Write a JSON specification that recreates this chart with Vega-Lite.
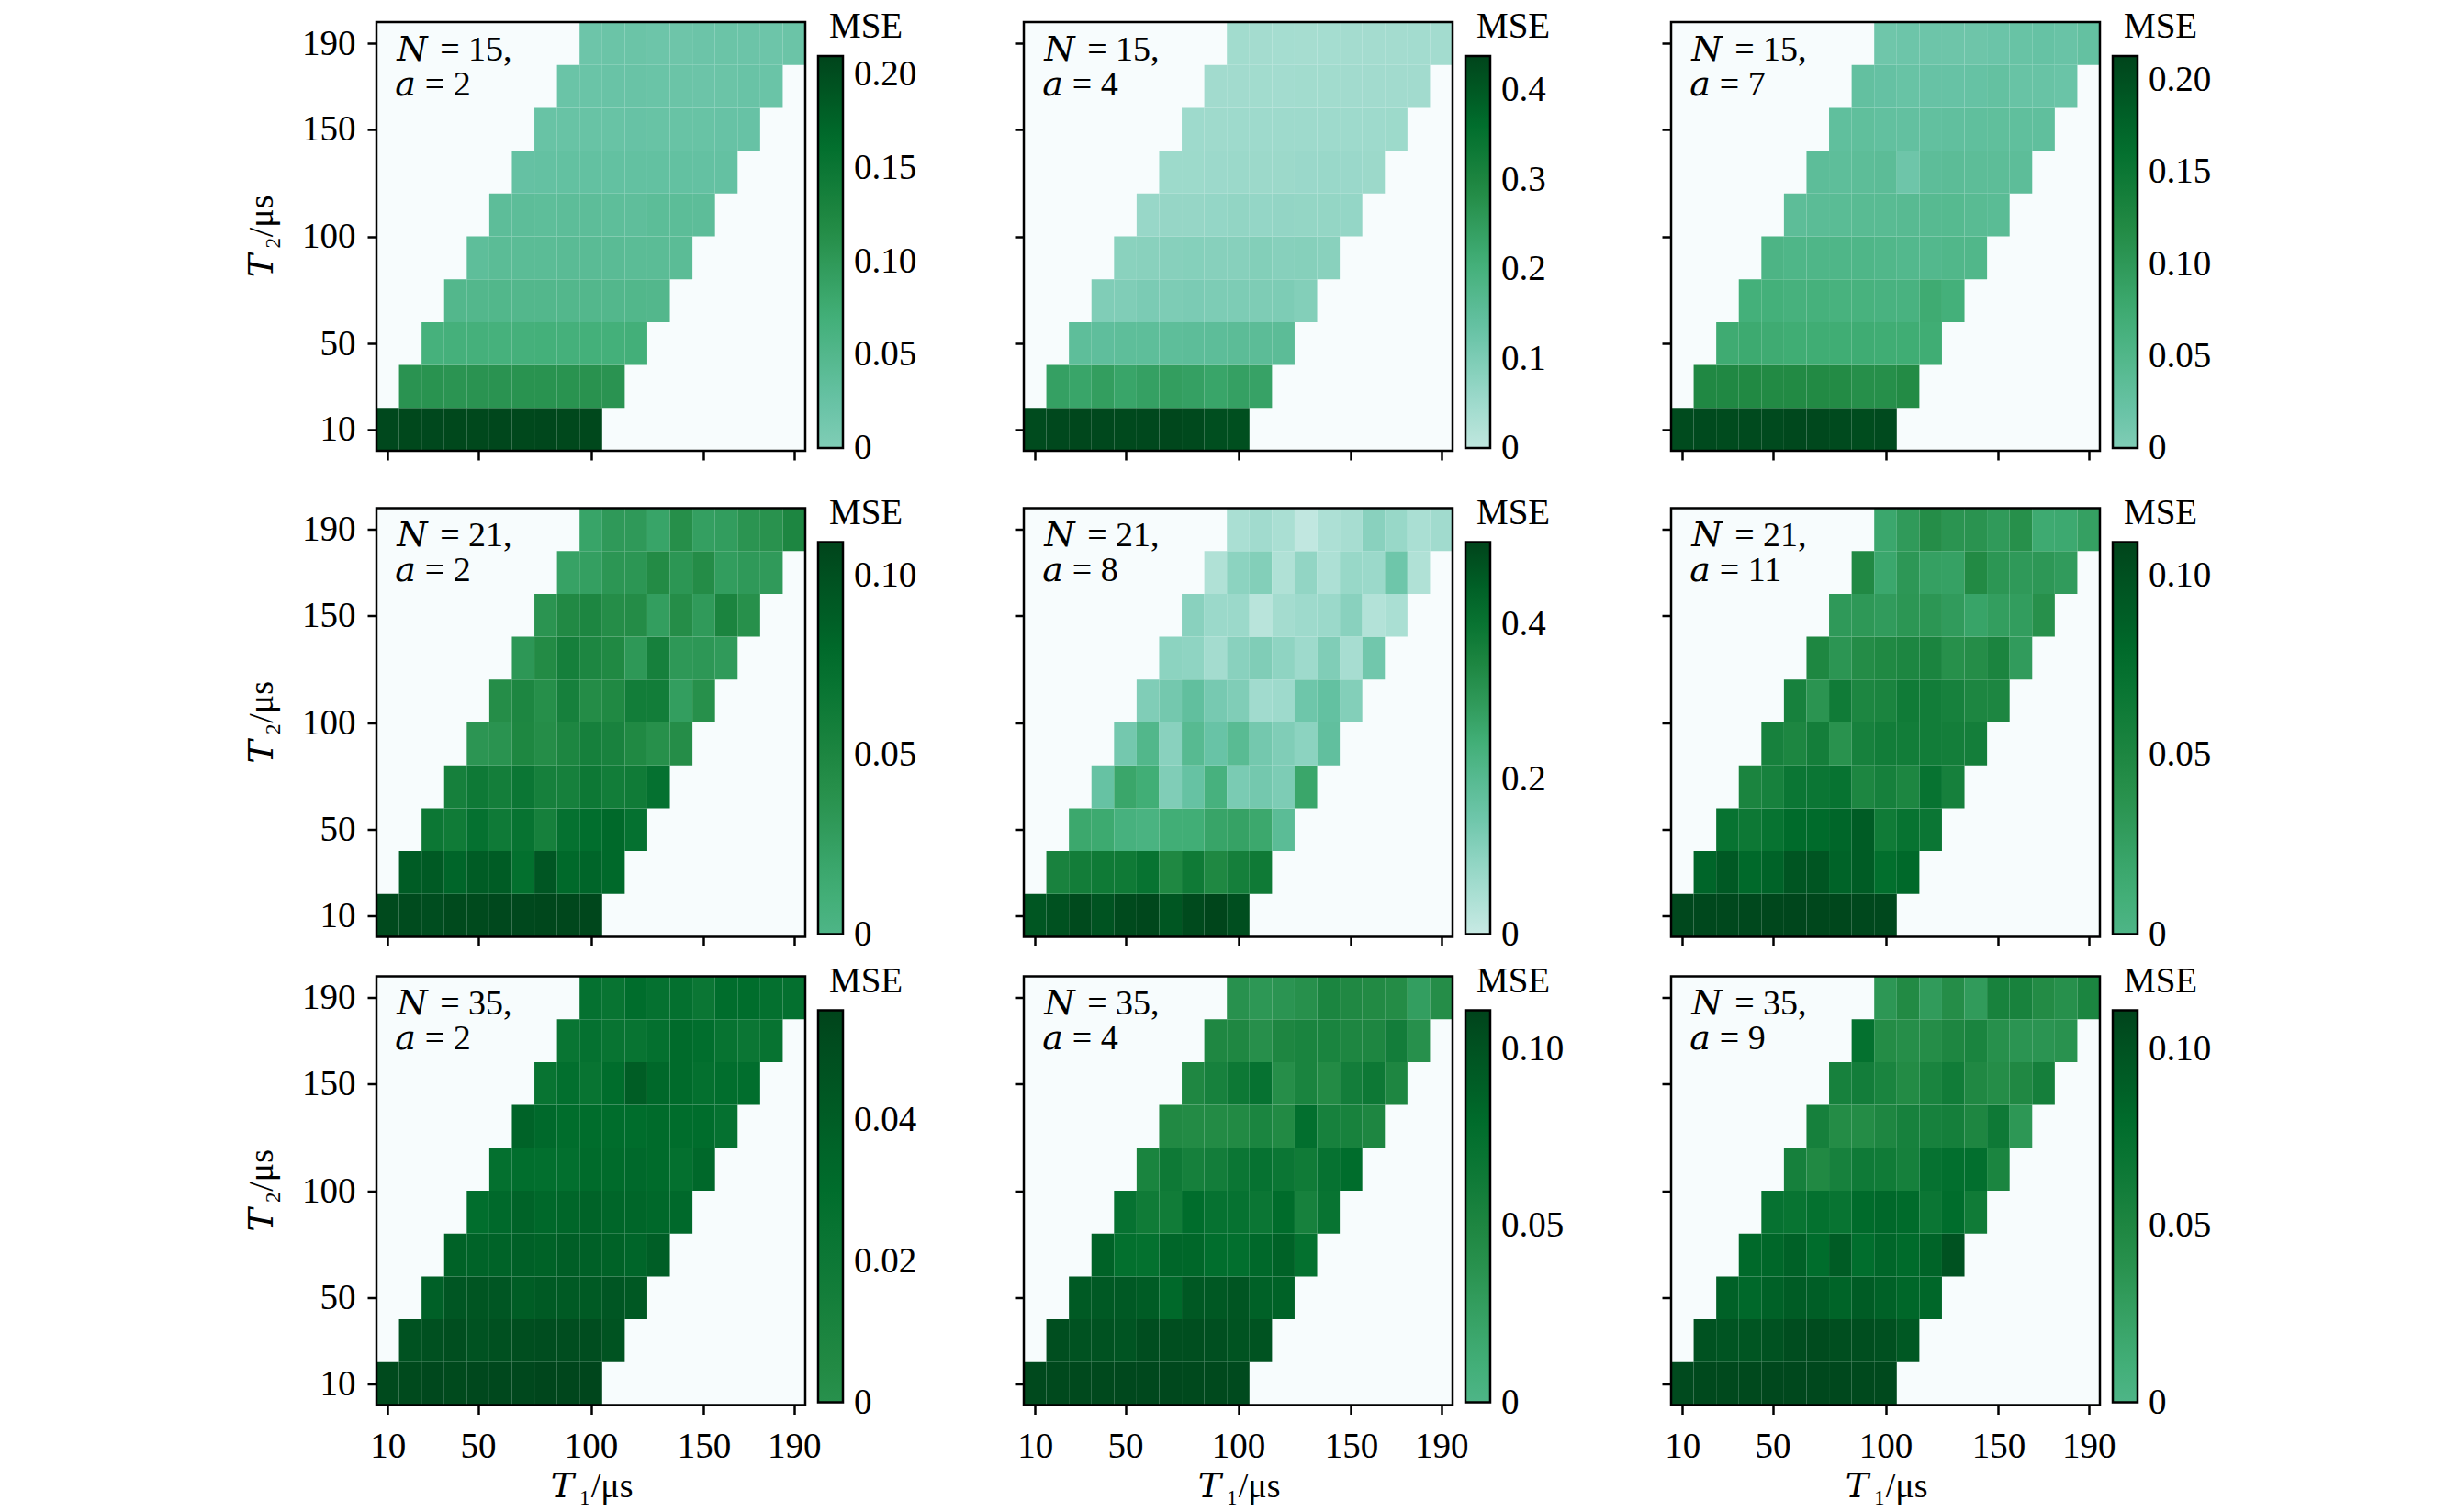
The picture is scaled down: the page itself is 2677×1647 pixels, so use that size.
{"$schema":"https://vega.github.io/schema/vega-lite/v6.json","background":"white","autosize":{"type":"pad"},"padding":{"left":266,"top":10,"right":0,"bottom":0},"spacing":11.5,"resolve":{"scale":{"color":"independent"},"legend":{"color":"independent"}},
"config":{"font":"Liberation Serif","view":{"stroke":null,"fill":"#f7fcfd"},
"axis":{"grid":false,"domain":false,"ticks":true,"tickSize":10,"tickWidth":2.5,"tickColor":"#000","labelFont":"Liberation Serif","labelFontSize":39,"labelColor":"#000","titleFont":"Liberation Serif, DejaVu Math TeX Gyre","titleFontSize":38,"titleFontWeight":"normal","titleColor":"#000","labelPadding":6,"labelFlush":false,"labelOverlap":false},
"axisX":{"titlePadding":5,"labelPadding":16},"axisY":{"titlePadding":24,"labelPadding":13},
"legend":{"orient":"none","legendX":481,"legendY":-14,"gradientLength":427,"gradientThickness":27,"gradientStrokeColor":"#000","gradientStrokeWidth":2.5,"labelFont":"Liberation Serif","labelFontSize":39,"labelColor":"#000","labelOverlap":false,"titleFont":"Liberation Serif","titleFontSize":39,"titleFontWeight":"normal","titleColor":"#000","titleAnchor":"start","titlePadding":12},
"text":{"font":"Liberation Serif, DejaVu Math TeX Gyre","fontSize":38,"align":"left","baseline":"top","lineHeight":38,"color":"#000"}},
"datasets":{
"p1":[{"T1":10,"T2":10,"MSE":0.205},{"T1":20,"T2":10,"MSE":0.206},{"T1":30,"T2":10,"MSE":0.205},{"T1":40,"T2":10,"MSE":0.206},{"T1":50,"T2":10,"MSE":0.206},{"T1":60,"T2":10,"MSE":0.207},{"T1":70,"T2":10,"MSE":0.206},{"T1":80,"T2":10,"MSE":0.207},{"T1":90,"T2":10,"MSE":0.206},{"T1":100,"T2":10,"MSE":0.206},
{"T1":20,"T2":30,"MSE":0.107},{"T1":30,"T2":30,"MSE":0.108},{"T1":40,"T2":30,"MSE":0.106},{"T1":50,"T2":30,"MSE":0.107},{"T1":60,"T2":30,"MSE":0.107},{"T1":70,"T2":30,"MSE":0.108},{"T1":80,"T2":30,"MSE":0.108},{"T1":90,"T2":30,"MSE":0.108},{"T1":100,"T2":30,"MSE":0.109},{"T1":110,"T2":30,"MSE":0.107},
{"T1":30,"T2":50,"MSE":0.066},{"T1":40,"T2":50,"MSE":0.067},{"T1":50,"T2":50,"MSE":0.067},{"T1":60,"T2":50,"MSE":0.066},{"T1":70,"T2":50,"MSE":0.067},{"T1":80,"T2":50,"MSE":0.068},{"T1":90,"T2":50,"MSE":0.067},{"T1":100,"T2":50,"MSE":0.068},{"T1":110,"T2":50,"MSE":0.068},{"T1":120,"T2":50,"MSE":0.069},
{"T1":40,"T2":70,"MSE":0.05},{"T1":50,"T2":70,"MSE":0.05},{"T1":60,"T2":70,"MSE":0.051},{"T1":70,"T2":70,"MSE":0.05},{"T1":80,"T2":70,"MSE":0.05},{"T1":90,"T2":70,"MSE":0.05},{"T1":100,"T2":70,"MSE":0.05},{"T1":110,"T2":70,"MSE":0.05},{"T1":120,"T2":70,"MSE":0.051},{"T1":130,"T2":70,"MSE":0.05},
{"T1":50,"T2":90,"MSE":0.036},{"T1":60,"T2":90,"MSE":0.04},{"T1":70,"T2":90,"MSE":0.04},{"T1":80,"T2":90,"MSE":0.04},{"T1":90,"T2":90,"MSE":0.041},{"T1":100,"T2":90,"MSE":0.041},{"T1":110,"T2":90,"MSE":0.041},{"T1":120,"T2":90,"MSE":0.04},{"T1":130,"T2":90,"MSE":0.04},{"T1":140,"T2":90,"MSE":0.04},
{"T1":60,"T2":110,"MSE":0.037},{"T1":70,"T2":110,"MSE":0.037},{"T1":80,"T2":110,"MSE":0.036},{"T1":90,"T2":110,"MSE":0.037},{"T1":100,"T2":110,"MSE":0.037},{"T1":110,"T2":110,"MSE":0.036},{"T1":120,"T2":110,"MSE":0.035},{"T1":130,"T2":110,"MSE":0.038},{"T1":140,"T2":110,"MSE":0.038},{"T1":150,"T2":110,"MSE":0.037},
{"T1":70,"T2":130,"MSE":0.027},{"T1":80,"T2":130,"MSE":0.028},{"T1":90,"T2":130,"MSE":0.029},{"T1":100,"T2":130,"MSE":0.029},{"T1":110,"T2":130,"MSE":0.029},{"T1":120,"T2":130,"MSE":0.029},{"T1":130,"T2":130,"MSE":0.029},{"T1":140,"T2":130,"MSE":0.029},{"T1":150,"T2":130,"MSE":0.028},{"T1":160,"T2":130,"MSE":0.028},
{"T1":80,"T2":150,"MSE":0.024},{"T1":90,"T2":150,"MSE":0.024},{"T1":100,"T2":150,"MSE":0.024},{"T1":110,"T2":150,"MSE":0.024},{"T1":120,"T2":150,"MSE":0.025},{"T1":130,"T2":150,"MSE":0.024},{"T1":140,"T2":150,"MSE":0.024},{"T1":150,"T2":150,"MSE":0.024},{"T1":160,"T2":150,"MSE":0.025},{"T1":170,"T2":150,"MSE":0.025},
{"T1":90,"T2":170,"MSE":0.022},{"T1":100,"T2":170,"MSE":0.022},{"T1":110,"T2":170,"MSE":0.023},{"T1":120,"T2":170,"MSE":0.023},{"T1":130,"T2":170,"MSE":0.022},{"T1":140,"T2":170,"MSE":0.021},{"T1":150,"T2":170,"MSE":0.02},{"T1":160,"T2":170,"MSE":0.021},{"T1":170,"T2":170,"MSE":0.023},{"T1":180,"T2":170,"MSE":0.022},
{"T1":100,"T2":190,"MSE":0.019},{"T1":110,"T2":190,"MSE":0.021},{"T1":120,"T2":190,"MSE":0.021},{"T1":130,"T2":190,"MSE":0.019},{"T1":140,"T2":190,"MSE":0.018},{"T1":150,"T2":190,"MSE":0.02},{"T1":160,"T2":190,"MSE":0.021},{"T1":170,"T2":190,"MSE":0.02},{"T1":180,"T2":190,"MSE":0.019},{"T1":190,"T2":190,"MSE":0.021}],
"p2":[{"T1":10,"T2":10,"MSE":0.425},{"T1":20,"T2":10,"MSE":0.43},{"T1":30,"T2":10,"MSE":0.432},{"T1":40,"T2":10,"MSE":0.43},{"T1":50,"T2":10,"MSE":0.428},{"T1":60,"T2":10,"MSE":0.43},{"T1":70,"T2":10,"MSE":0.432},{"T1":80,"T2":10,"MSE":0.428},{"T1":90,"T2":10,"MSE":0.42},{"T1":100,"T2":10,"MSE":0.418},
{"T1":20,"T2":30,"MSE":0.24},{"T1":30,"T2":30,"MSE":0.23},{"T1":40,"T2":30,"MSE":0.245},{"T1":50,"T2":30,"MSE":0.23},{"T1":60,"T2":30,"MSE":0.24},{"T1":70,"T2":30,"MSE":0.245},{"T1":80,"T2":30,"MSE":0.24},{"T1":90,"T2":30,"MSE":0.23},{"T1":100,"T2":30,"MSE":0.24},{"T1":110,"T2":30,"MSE":0.235},
{"T1":30,"T2":50,"MSE":0.15},{"T1":40,"T2":50,"MSE":0.148},{"T1":50,"T2":50,"MSE":0.15},{"T1":60,"T2":50,"MSE":0.15},{"T1":70,"T2":50,"MSE":0.15},{"T1":80,"T2":50,"MSE":0.152},{"T1":90,"T2":50,"MSE":0.153},{"T1":100,"T2":50,"MSE":0.155},{"T1":110,"T2":50,"MSE":0.155},{"T1":120,"T2":50,"MSE":0.155},
{"T1":40,"T2":70,"MSE":0.095},{"T1":50,"T2":70,"MSE":0.095},{"T1":60,"T2":70,"MSE":0.102},{"T1":70,"T2":70,"MSE":0.1},{"T1":80,"T2":70,"MSE":0.102},{"T1":90,"T2":70,"MSE":0.1},{"T1":100,"T2":70,"MSE":0.1},{"T1":110,"T2":70,"MSE":0.098},{"T1":120,"T2":70,"MSE":0.1},{"T1":130,"T2":70,"MSE":0.09},
{"T1":50,"T2":90,"MSE":0.08},{"T1":60,"T2":90,"MSE":0.082},{"T1":70,"T2":90,"MSE":0.085},{"T1":80,"T2":90,"MSE":0.087},{"T1":90,"T2":90,"MSE":0.085},{"T1":100,"T2":90,"MSE":0.084},{"T1":110,"T2":90,"MSE":0.09},{"T1":120,"T2":90,"MSE":0.085},{"T1":130,"T2":90,"MSE":0.086},{"T1":140,"T2":90,"MSE":0.082},
{"T1":60,"T2":110,"MSE":0.06},{"T1":70,"T2":110,"MSE":0.063},{"T1":80,"T2":110,"MSE":0.063},{"T1":90,"T2":110,"MSE":0.065},{"T1":100,"T2":110,"MSE":0.068},{"T1":110,"T2":110,"MSE":0.065},{"T1":120,"T2":110,"MSE":0.067},{"T1":130,"T2":110,"MSE":0.066},{"T1":140,"T2":110,"MSE":0.066},{"T1":150,"T2":110,"MSE":0.065},
{"T1":70,"T2":130,"MSE":0.052},{"T1":80,"T2":130,"MSE":0.052},{"T1":90,"T2":130,"MSE":0.053},{"T1":100,"T2":130,"MSE":0.055},{"T1":110,"T2":130,"MSE":0.054},{"T1":120,"T2":130,"MSE":0.054},{"T1":130,"T2":130,"MSE":0.056},{"T1":140,"T2":130,"MSE":0.058},{"T1":150,"T2":130,"MSE":0.056},{"T1":160,"T2":130,"MSE":0.054},
{"T1":80,"T2":150,"MSE":0.05},{"T1":90,"T2":150,"MSE":0.049},{"T1":100,"T2":150,"MSE":0.05},{"T1":110,"T2":150,"MSE":0.05},{"T1":120,"T2":150,"MSE":0.05},{"T1":130,"T2":150,"MSE":0.05},{"T1":140,"T2":150,"MSE":0.05},{"T1":150,"T2":150,"MSE":0.05},{"T1":160,"T2":150,"MSE":0.051},{"T1":170,"T2":150,"MSE":0.052},
{"T1":90,"T2":170,"MSE":0.045},{"T1":100,"T2":170,"MSE":0.045},{"T1":110,"T2":170,"MSE":0.044},{"T1":120,"T2":170,"MSE":0.043},{"T1":130,"T2":170,"MSE":0.044},{"T1":140,"T2":170,"MSE":0.044},{"T1":150,"T2":170,"MSE":0.045},{"T1":160,"T2":170,"MSE":0.045},{"T1":170,"T2":170,"MSE":0.045},{"T1":180,"T2":170,"MSE":0.045},
{"T1":100,"T2":190,"MSE":0.044},{"T1":110,"T2":190,"MSE":0.042},{"T1":120,"T2":190,"MSE":0.04},{"T1":130,"T2":190,"MSE":0.039},{"T1":140,"T2":190,"MSE":0.04},{"T1":150,"T2":190,"MSE":0.041},{"T1":160,"T2":190,"MSE":0.041},{"T1":170,"T2":190,"MSE":0.042},{"T1":180,"T2":190,"MSE":0.043},{"T1":190,"T2":190,"MSE":0.043}],
"p3":[{"T1":10,"T2":10,"MSE":0.205},{"T1":20,"T2":10,"MSE":0.206},{"T1":30,"T2":10,"MSE":0.205},{"T1":40,"T2":10,"MSE":0.206},{"T1":50,"T2":10,"MSE":0.206},{"T1":60,"T2":10,"MSE":0.208},{"T1":70,"T2":10,"MSE":0.208},{"T1":80,"T2":10,"MSE":0.206},{"T1":90,"T2":10,"MSE":0.204},{"T1":100,"T2":10,"MSE":0.206},
{"T1":20,"T2":30,"MSE":0.122},{"T1":30,"T2":30,"MSE":0.122},{"T1":40,"T2":30,"MSE":0.121},{"T1":50,"T2":30,"MSE":0.12},{"T1":60,"T2":30,"MSE":0.12},{"T1":70,"T2":30,"MSE":0.12},{"T1":80,"T2":30,"MSE":0.118},{"T1":90,"T2":30,"MSE":0.113},{"T1":100,"T2":30,"MSE":0.113},{"T1":110,"T2":30,"MSE":0.118},
{"T1":30,"T2":50,"MSE":0.074},{"T1":40,"T2":50,"MSE":0.076},{"T1":50,"T2":50,"MSE":0.074},{"T1":60,"T2":50,"MSE":0.072},{"T1":70,"T2":50,"MSE":0.072},{"T1":80,"T2":50,"MSE":0.072},{"T1":90,"T2":50,"MSE":0.073},{"T1":100,"T2":50,"MSE":0.072},{"T1":110,"T2":50,"MSE":0.072},{"T1":120,"T2":50,"MSE":0.072},
{"T1":40,"T2":70,"MSE":0.066},{"T1":50,"T2":70,"MSE":0.066},{"T1":60,"T2":70,"MSE":0.063},{"T1":70,"T2":70,"MSE":0.064},{"T1":80,"T2":70,"MSE":0.062},{"T1":90,"T2":70,"MSE":0.062},{"T1":100,"T2":70,"MSE":0.06},{"T1":110,"T2":70,"MSE":0.06},{"T1":120,"T2":70,"MSE":0.074},{"T1":130,"T2":70,"MSE":0.066},
{"T1":50,"T2":90,"MSE":0.055},{"T1":60,"T2":90,"MSE":0.052},{"T1":70,"T2":90,"MSE":0.052},{"T1":80,"T2":90,"MSE":0.052},{"T1":90,"T2":90,"MSE":0.052},{"T1":100,"T2":90,"MSE":0.05},{"T1":110,"T2":90,"MSE":0.047},{"T1":120,"T2":90,"MSE":0.047},{"T1":130,"T2":90,"MSE":0.05},{"T1":140,"T2":90,"MSE":0.05},
{"T1":60,"T2":110,"MSE":0.035},{"T1":70,"T2":110,"MSE":0.037},{"T1":80,"T2":110,"MSE":0.038},{"T1":90,"T2":110,"MSE":0.04},{"T1":100,"T2":110,"MSE":0.04},{"T1":110,"T2":110,"MSE":0.041},{"T1":120,"T2":110,"MSE":0.042},{"T1":130,"T2":110,"MSE":0.043},{"T1":140,"T2":110,"MSE":0.04},{"T1":150,"T2":110,"MSE":0.038},
{"T1":70,"T2":130,"MSE":0.034},{"T1":80,"T2":130,"MSE":0.033},{"T1":90,"T2":130,"MSE":0.035},{"T1":100,"T2":130,"MSE":0.036},{"T1":110,"T2":130,"MSE":0.016},{"T1":120,"T2":130,"MSE":0.034},{"T1":130,"T2":130,"MSE":0.036},{"T1":140,"T2":130,"MSE":0.035},{"T1":150,"T2":130,"MSE":0.035},{"T1":160,"T2":130,"MSE":0.034},
{"T1":80,"T2":150,"MSE":0.03},{"T1":90,"T2":150,"MSE":0.031},{"T1":100,"T2":150,"MSE":0.028},{"T1":110,"T2":150,"MSE":0.027},{"T1":120,"T2":150,"MSE":0.028},{"T1":130,"T2":150,"MSE":0.029},{"T1":140,"T2":150,"MSE":0.03},{"T1":150,"T2":150,"MSE":0.031},{"T1":160,"T2":150,"MSE":0.03},{"T1":170,"T2":150,"MSE":0.03},
{"T1":90,"T2":170,"MSE":0.027},{"T1":100,"T2":170,"MSE":0.024},{"T1":110,"T2":170,"MSE":0.021},{"T1":120,"T2":170,"MSE":0.022},{"T1":130,"T2":170,"MSE":0.022},{"T1":140,"T2":170,"MSE":0.023},{"T1":150,"T2":170,"MSE":0.026},{"T1":160,"T2":170,"MSE":0.021},{"T1":170,"T2":170,"MSE":0.021},{"T1":180,"T2":170,"MSE":0.019},
{"T1":100,"T2":190,"MSE":0.015},{"T1":110,"T2":190,"MSE":0.017},{"T1":120,"T2":190,"MSE":0.017},{"T1":130,"T2":190,"MSE":0.016},{"T1":140,"T2":190,"MSE":0.016},{"T1":150,"T2":190,"MSE":0.018},{"T1":160,"T2":190,"MSE":0.021},{"T1":170,"T2":190,"MSE":0.023},{"T1":180,"T2":190,"MSE":0.02},{"T1":190,"T2":190,"MSE":0.026}],
"p4":[{"T1":10,"T2":10,"MSE":0.105},{"T1":20,"T2":10,"MSE":0.104},{"T1":30,"T2":10,"MSE":0.102},{"T1":40,"T2":10,"MSE":0.105},{"T1":50,"T2":10,"MSE":0.105},{"T1":60,"T2":10,"MSE":0.106},{"T1":70,"T2":10,"MSE":0.106},{"T1":80,"T2":10,"MSE":0.107},{"T1":90,"T2":10,"MSE":0.107},{"T1":100,"T2":10,"MSE":0.107},
{"T1":20,"T2":30,"MSE":0.09},{"T1":30,"T2":30,"MSE":0.092},{"T1":40,"T2":30,"MSE":0.083},{"T1":50,"T2":30,"MSE":0.09},{"T1":60,"T2":30,"MSE":0.09},{"T1":70,"T2":30,"MSE":0.074},{"T1":80,"T2":30,"MSE":0.095},{"T1":90,"T2":30,"MSE":0.08},{"T1":100,"T2":30,"MSE":0.083},{"T1":110,"T2":30,"MSE":0.08},
{"T1":30,"T2":50,"MSE":0.066},{"T1":40,"T2":50,"MSE":0.062},{"T1":50,"T2":50,"MSE":0.072},{"T1":60,"T2":50,"MSE":0.063},{"T1":70,"T2":50,"MSE":0.07},{"T1":80,"T2":50,"MSE":0.056},{"T1":90,"T2":50,"MSE":0.072},{"T1":100,"T2":50,"MSE":0.076},{"T1":110,"T2":50,"MSE":0.08},{"T1":120,"T2":50,"MSE":0.072},
{"T1":40,"T2":70,"MSE":0.056},{"T1":50,"T2":70,"MSE":0.064},{"T1":60,"T2":70,"MSE":0.058},{"T1":70,"T2":70,"MSE":0.067},{"T1":80,"T2":70,"MSE":0.056},{"T1":90,"T2":70,"MSE":0.056},{"T1":100,"T2":70,"MSE":0.065},{"T1":110,"T2":70,"MSE":0.06},{"T1":120,"T2":70,"MSE":0.062},{"T1":130,"T2":70,"MSE":0.072},
{"T1":50,"T2":90,"MSE":0.035},{"T1":60,"T2":90,"MSE":0.037},{"T1":70,"T2":90,"MSE":0.049},{"T1":80,"T2":90,"MSE":0.042},{"T1":90,"T2":90,"MSE":0.05},{"T1":100,"T2":90,"MSE":0.056},{"T1":110,"T2":90,"MSE":0.054},{"T1":120,"T2":90,"MSE":0.047},{"T1":130,"T2":90,"MSE":0.04},{"T1":140,"T2":90,"MSE":0.042},
{"T1":60,"T2":110,"MSE":0.042},{"T1":70,"T2":110,"MSE":0.05},{"T1":80,"T2":110,"MSE":0.041},{"T1":90,"T2":110,"MSE":0.056},{"T1":100,"T2":110,"MSE":0.043},{"T1":110,"T2":110,"MSE":0.047},{"T1":120,"T2":110,"MSE":0.06},{"T1":130,"T2":110,"MSE":0.06},{"T1":140,"T2":110,"MSE":0.027},{"T1":150,"T2":110,"MSE":0.04},
{"T1":70,"T2":130,"MSE":0.033},{"T1":80,"T2":130,"MSE":0.044},{"T1":90,"T2":130,"MSE":0.057},{"T1":100,"T2":130,"MSE":0.05},{"T1":110,"T2":130,"MSE":0.047},{"T1":120,"T2":130,"MSE":0.032},{"T1":130,"T2":130,"MSE":0.056},{"T1":140,"T2":130,"MSE":0.032},{"T1":150,"T2":130,"MSE":0.033},{"T1":160,"T2":130,"MSE":0.03},
{"T1":80,"T2":150,"MSE":0.036},{"T1":90,"T2":150,"MSE":0.046},{"T1":100,"T2":150,"MSE":0.05},{"T1":110,"T2":150,"MSE":0.042},{"T1":120,"T2":150,"MSE":0.043},{"T1":130,"T2":150,"MSE":0.027},{"T1":140,"T2":150,"MSE":0.042},{"T1":150,"T2":150,"MSE":0.03},{"T1":160,"T2":150,"MSE":0.052},{"T1":170,"T2":150,"MSE":0.04},
{"T1":90,"T2":170,"MSE":0.023},{"T1":100,"T2":170,"MSE":0.026},{"T1":110,"T2":170,"MSE":0.034},{"T1":120,"T2":170,"MSE":0.034},{"T1":130,"T2":170,"MSE":0.044},{"T1":140,"T2":170,"MSE":0.034},{"T1":150,"T2":170,"MSE":0.043},{"T1":160,"T2":170,"MSE":0.028},{"T1":170,"T2":170,"MSE":0.031},{"T1":180,"T2":170,"MSE":0.03},
{"T1":100,"T2":190,"MSE":0.021},{"T1":110,"T2":190,"MSE":0.031},{"T1":120,"T2":190,"MSE":0.031},{"T1":130,"T2":190,"MSE":0.021},{"T1":140,"T2":190,"MSE":0.041},{"T1":150,"T2":190,"MSE":0.026},{"T1":160,"T2":190,"MSE":0.028},{"T1":170,"T2":190,"MSE":0.036},{"T1":180,"T2":190,"MSE":0.038},{"T1":190,"T2":190,"MSE":0.05}],
"p5":[{"T1":10,"T2":10,"MSE":0.47},{"T1":20,"T2":10,"MSE":0.48},{"T1":30,"T2":10,"MSE":0.495},{"T1":40,"T2":10,"MSE":0.475},{"T1":50,"T2":10,"MSE":0.495},{"T1":60,"T2":10,"MSE":0.5},{"T1":70,"T2":10,"MSE":0.47},{"T1":80,"T2":10,"MSE":0.495},{"T1":90,"T2":10,"MSE":0.505},{"T1":100,"T2":10,"MSE":0.485},
{"T1":20,"T2":30,"MSE":0.36},{"T1":30,"T2":30,"MSE":0.375},{"T1":40,"T2":30,"MSE":0.385},{"T1":50,"T2":30,"MSE":0.385},{"T1":60,"T2":30,"MSE":0.405},{"T1":70,"T2":30,"MSE":0.345},{"T1":80,"T2":30,"MSE":0.385},{"T1":90,"T2":30,"MSE":0.345},{"T1":100,"T2":30,"MSE":0.37},{"T1":110,"T2":30,"MSE":0.385},
{"T1":30,"T2":50,"MSE":0.265},{"T1":40,"T2":50,"MSE":0.26},{"T1":50,"T2":50,"MSE":0.235},{"T1":60,"T2":50,"MSE":0.23},{"T1":70,"T2":50,"MSE":0.25},{"T1":80,"T2":50,"MSE":0.25},{"T1":90,"T2":50,"MSE":0.275},{"T1":100,"T2":50,"MSE":0.28},{"T1":110,"T2":50,"MSE":0.265},{"T1":120,"T2":50,"MSE":0.19},
{"T1":40,"T2":70,"MSE":0.165},{"T1":50,"T2":70,"MSE":0.27},{"T1":60,"T2":70,"MSE":0.25},{"T1":70,"T2":70,"MSE":0.12},{"T1":80,"T2":70,"MSE":0.165},{"T1":90,"T2":70,"MSE":0.235},{"T1":100,"T2":70,"MSE":0.13},{"T1":110,"T2":70,"MSE":0.14},{"T1":120,"T2":70,"MSE":0.125},{"T1":130,"T2":70,"MSE":0.27},
{"T1":50,"T2":90,"MSE":0.14},{"T1":60,"T2":90,"MSE":0.21},{"T1":70,"T2":90,"MSE":0.105},{"T1":80,"T2":90,"MSE":0.2},{"T1":90,"T2":90,"MSE":0.16},{"T1":100,"T2":90,"MSE":0.195},{"T1":110,"T2":90,"MSE":0.14},{"T1":120,"T2":90,"MSE":0.12},{"T1":130,"T2":90,"MSE":0.1},{"T1":140,"T2":90,"MSE":0.175},
{"T1":60,"T2":110,"MSE":0.12},{"T1":70,"T2":110,"MSE":0.14},{"T1":80,"T2":110,"MSE":0.175},{"T1":90,"T2":110,"MSE":0.135},{"T1":100,"T2":110,"MSE":0.12},{"T1":110,"T2":110,"MSE":0.065},{"T1":120,"T2":110,"MSE":0.07},{"T1":130,"T2":110,"MSE":0.15},{"T1":140,"T2":110,"MSE":0.17},{"T1":150,"T2":110,"MSE":0.115},
{"T1":70,"T2":130,"MSE":0.1},{"T1":80,"T2":130,"MSE":0.095},{"T1":90,"T2":130,"MSE":0.06},{"T1":100,"T2":130,"MSE":0.105},{"T1":110,"T2":130,"MSE":0.12},{"T1":120,"T2":130,"MSE":0.095},{"T1":130,"T2":130,"MSE":0.07},{"T1":140,"T2":130,"MSE":0.12},{"T1":150,"T2":130,"MSE":0.055},{"T1":160,"T2":130,"MSE":0.145},
{"T1":80,"T2":150,"MSE":0.105},{"T1":90,"T2":150,"MSE":0.075},{"T1":100,"T2":150,"MSE":0.075},{"T1":110,"T2":150,"MSE":0.025},{"T1":120,"T2":150,"MSE":0.06},{"T1":130,"T2":150,"MSE":0.07},{"T1":140,"T2":150,"MSE":0.075},{"T1":150,"T2":150,"MSE":0.105},{"T1":160,"T2":150,"MSE":0.035},{"T1":170,"T2":150,"MSE":0.05},
{"T1":90,"T2":170,"MSE":0.04},{"T1":100,"T2":170,"MSE":0.1},{"T1":110,"T2":170,"MSE":0.115},{"T1":120,"T2":170,"MSE":0.04},{"T1":130,"T2":170,"MSE":0.09},{"T1":140,"T2":170,"MSE":0.045},{"T1":150,"T2":170,"MSE":0.08},{"T1":160,"T2":170,"MSE":0.075},{"T1":170,"T2":170,"MSE":0.15},{"T1":180,"T2":170,"MSE":0.04},
{"T1":100,"T2":190,"MSE":0.05},{"T1":110,"T2":190,"MSE":0.065},{"T1":120,"T2":190,"MSE":0.05},{"T1":130,"T2":190,"MSE":0.012},{"T1":140,"T2":190,"MSE":0.045},{"T1":150,"T2":190,"MSE":0.055},{"T1":160,"T2":190,"MSE":0.105},{"T1":170,"T2":190,"MSE":0.08},{"T1":180,"T2":190,"MSE":0.05},{"T1":190,"T2":190,"MSE":0.065}],
"p6":[{"T1":10,"T2":10,"MSE":0.106},{"T1":20,"T2":10,"MSE":0.106},{"T1":30,"T2":10,"MSE":0.106},{"T1":40,"T2":10,"MSE":0.106},{"T1":50,"T2":10,"MSE":0.107},{"T1":60,"T2":10,"MSE":0.108},{"T1":70,"T2":10,"MSE":0.107},{"T1":80,"T2":10,"MSE":0.107},{"T1":90,"T2":10,"MSE":0.106},{"T1":100,"T2":10,"MSE":0.106},
{"T1":20,"T2":30,"MSE":0.083},{"T1":30,"T2":30,"MSE":0.093},{"T1":40,"T2":30,"MSE":0.08},{"T1":50,"T2":30,"MSE":0.085},{"T1":60,"T2":30,"MSE":0.096},{"T1":70,"T2":30,"MSE":0.096},{"T1":80,"T2":30,"MSE":0.085},{"T1":90,"T2":30,"MSE":0.09},{"T1":100,"T2":30,"MSE":0.075},{"T1":110,"T2":30,"MSE":0.08},
{"T1":30,"T2":50,"MSE":0.07},{"T1":40,"T2":50,"MSE":0.065},{"T1":50,"T2":50,"MSE":0.07},{"T1":60,"T2":50,"MSE":0.078},{"T1":70,"T2":50,"MSE":0.078},{"T1":80,"T2":50,"MSE":0.082},{"T1":90,"T2":50,"MSE":0.09},{"T1":100,"T2":50,"MSE":0.062},{"T1":110,"T2":50,"MSE":0.07},{"T1":120,"T2":50,"MSE":0.067},
{"T1":40,"T2":70,"MSE":0.052},{"T1":50,"T2":70,"MSE":0.055},{"T1":60,"T2":70,"MSE":0.067},{"T1":70,"T2":70,"MSE":0.067},{"T1":80,"T2":70,"MSE":0.07},{"T1":90,"T2":70,"MSE":0.05},{"T1":100,"T2":70,"MSE":0.056},{"T1":110,"T2":70,"MSE":0.05},{"T1":120,"T2":70,"MSE":0.07},{"T1":130,"T2":70,"MSE":0.056},
{"T1":50,"T2":90,"MSE":0.055},{"T1":60,"T2":90,"MSE":0.05},{"T1":70,"T2":90,"MSE":0.058},{"T1":80,"T2":90,"MSE":0.038},{"T1":90,"T2":90,"MSE":0.055},{"T1":100,"T2":90,"MSE":0.06},{"T1":110,"T2":90,"MSE":0.06},{"T1":120,"T2":90,"MSE":0.06},{"T1":130,"T2":90,"MSE":0.058},{"T1":140,"T2":90,"MSE":0.058},
{"T1":60,"T2":110,"MSE":0.055},{"T1":70,"T2":110,"MSE":0.036},{"T1":80,"T2":110,"MSE":0.062},{"T1":90,"T2":110,"MSE":0.05},{"T1":100,"T2":110,"MSE":0.052},{"T1":110,"T2":110,"MSE":0.062},{"T1":120,"T2":110,"MSE":0.06},{"T1":130,"T2":110,"MSE":0.055},{"T1":140,"T2":110,"MSE":0.05},{"T1":150,"T2":110,"MSE":0.05},
{"T1":70,"T2":130,"MSE":0.049},{"T1":80,"T2":130,"MSE":0.035},{"T1":90,"T2":130,"MSE":0.043},{"T1":100,"T2":130,"MSE":0.047},{"T1":110,"T2":130,"MSE":0.05},{"T1":120,"T2":130,"MSE":0.052},{"T1":130,"T2":130,"MSE":0.04},{"T1":140,"T2":130,"MSE":0.042},{"T1":150,"T2":130,"MSE":0.052},{"T1":160,"T2":130,"MSE":0.029},
{"T1":80,"T2":150,"MSE":0.031},{"T1":90,"T2":150,"MSE":0.032},{"T1":100,"T2":150,"MSE":0.029},{"T1":110,"T2":150,"MSE":0.034},{"T1":120,"T2":150,"MSE":0.034},{"T1":130,"T2":150,"MSE":0.029},{"T1":140,"T2":150,"MSE":0.021},{"T1":150,"T2":150,"MSE":0.027},{"T1":160,"T2":150,"MSE":0.028},{"T1":170,"T2":150,"MSE":0.04},
{"T1":90,"T2":170,"MSE":0.046},{"T1":100,"T2":170,"MSE":0.018},{"T1":110,"T2":170,"MSE":0.033},{"T1":120,"T2":170,"MSE":0.025},{"T1":130,"T2":170,"MSE":0.024},{"T1":140,"T2":170,"MSE":0.045},{"T1":150,"T2":170,"MSE":0.034},{"T1":160,"T2":170,"MSE":0.031},{"T1":170,"T2":170,"MSE":0.033},{"T1":180,"T2":170,"MSE":0.029},
{"T1":100,"T2":190,"MSE":0.018},{"T1":110,"T2":190,"MSE":0.03},{"T1":120,"T2":190,"MSE":0.042},{"T1":130,"T2":190,"MSE":0.036},{"T1":140,"T2":190,"MSE":0.037},{"T1":150,"T2":190,"MSE":0.03},{"T1":160,"T2":190,"MSE":0.04},{"T1":170,"T2":190,"MSE":0.015},{"T1":180,"T2":190,"MSE":0.016},{"T1":190,"T2":190,"MSE":0.025}],
"p7":[{"T1":10,"T2":10,"MSE":0.052},{"T1":20,"T2":10,"MSE":0.052},{"T1":30,"T2":10,"MSE":0.053},{"T1":40,"T2":10,"MSE":0.052},{"T1":50,"T2":10,"MSE":0.053},{"T1":60,"T2":10,"MSE":0.053},{"T1":70,"T2":10,"MSE":0.053},{"T1":80,"T2":10,"MSE":0.054},{"T1":90,"T2":10,"MSE":0.054},{"T1":100,"T2":10,"MSE":0.054},
{"T1":20,"T2":30,"MSE":0.047},{"T1":30,"T2":30,"MSE":0.048},{"T1":40,"T2":30,"MSE":0.049},{"T1":50,"T2":30,"MSE":0.047},{"T1":60,"T2":30,"MSE":0.048},{"T1":70,"T2":30,"MSE":0.049},{"T1":80,"T2":30,"MSE":0.05},{"T1":90,"T2":30,"MSE":0.05},{"T1":100,"T2":30,"MSE":0.05},{"T1":110,"T2":30,"MSE":0.046},
{"T1":30,"T2":50,"MSE":0.038},{"T1":40,"T2":50,"MSE":0.044},{"T1":50,"T2":50,"MSE":0.045},{"T1":60,"T2":50,"MSE":0.044},{"T1":70,"T2":50,"MSE":0.04},{"T1":80,"T2":50,"MSE":0.042},{"T1":90,"T2":50,"MSE":0.042},{"T1":100,"T2":50,"MSE":0.042},{"T1":110,"T2":50,"MSE":0.044},{"T1":120,"T2":50,"MSE":0.043},
{"T1":40,"T2":70,"MSE":0.037},{"T1":50,"T2":70,"MSE":0.036},{"T1":60,"T2":70,"MSE":0.036},{"T1":70,"T2":70,"MSE":0.038},{"T1":80,"T2":70,"MSE":0.037},{"T1":90,"T2":70,"MSE":0.039},{"T1":100,"T2":70,"MSE":0.038},{"T1":110,"T2":70,"MSE":0.037},{"T1":120,"T2":70,"MSE":0.035},{"T1":130,"T2":70,"MSE":0.039},
{"T1":50,"T2":90,"MSE":0.029},{"T1":60,"T2":90,"MSE":0.032},{"T1":70,"T2":90,"MSE":0.036},{"T1":80,"T2":90,"MSE":0.033},{"T1":90,"T2":90,"MSE":0.034},{"T1":100,"T2":90,"MSE":0.036},{"T1":110,"T2":90,"MSE":0.034},{"T1":120,"T2":90,"MSE":0.034},{"T1":130,"T2":90,"MSE":0.033},{"T1":140,"T2":90,"MSE":0.032},
{"T1":60,"T2":110,"MSE":0.027},{"T1":70,"T2":110,"MSE":0.029},{"T1":80,"T2":110,"MSE":0.028},{"T1":90,"T2":110,"MSE":0.028},{"T1":100,"T2":110,"MSE":0.031},{"T1":110,"T2":110,"MSE":0.031},{"T1":120,"T2":110,"MSE":0.032},{"T1":130,"T2":110,"MSE":0.031},{"T1":140,"T2":110,"MSE":0.027},{"T1":150,"T2":110,"MSE":0.033},
{"T1":70,"T2":130,"MSE":0.036},{"T1":80,"T2":130,"MSE":0.032},{"T1":90,"T2":130,"MSE":0.03},{"T1":100,"T2":130,"MSE":0.03},{"T1":110,"T2":130,"MSE":0.03},{"T1":120,"T2":130,"MSE":0.03},{"T1":130,"T2":130,"MSE":0.031},{"T1":140,"T2":130,"MSE":0.03},{"T1":150,"T2":130,"MSE":0.03},{"T1":160,"T2":130,"MSE":0.026},
{"T1":80,"T2":150,"MSE":0.024},{"T1":90,"T2":150,"MSE":0.028},{"T1":100,"T2":150,"MSE":0.024},{"T1":110,"T2":150,"MSE":0.03},{"T1":120,"T2":150,"MSE":0.04},{"T1":130,"T2":150,"MSE":0.033},{"T1":140,"T2":150,"MSE":0.031},{"T1":150,"T2":150,"MSE":0.027},{"T1":160,"T2":150,"MSE":0.029},{"T1":170,"T2":150,"MSE":0.029},
{"T1":90,"T2":170,"MSE":0.023},{"T1":100,"T2":170,"MSE":0.026},{"T1":110,"T2":170,"MSE":0.024},{"T1":120,"T2":170,"MSE":0.024},{"T1":130,"T2":170,"MSE":0.027},{"T1":140,"T2":170,"MSE":0.031},{"T1":150,"T2":170,"MSE":0.029},{"T1":160,"T2":170,"MSE":0.025},{"T1":170,"T2":170,"MSE":0.022},{"T1":180,"T2":170,"MSE":0.025},
{"T1":100,"T2":190,"MSE":0.026},{"T1":110,"T2":190,"MSE":0.024},{"T1":120,"T2":190,"MSE":0.03},{"T1":130,"T2":190,"MSE":0.026},{"T1":140,"T2":190,"MSE":0.027},{"T1":150,"T2":190,"MSE":0.022},{"T1":160,"T2":190,"MSE":0.03},{"T1":170,"T2":190,"MSE":0.03},{"T1":180,"T2":190,"MSE":0.027},{"T1":190,"T2":190,"MSE":0.027}],
"p8":[{"T1":10,"T2":10,"MSE":0.107},{"T1":20,"T2":10,"MSE":0.107},{"T1":30,"T2":10,"MSE":0.107},{"T1":40,"T2":10,"MSE":0.107},{"T1":50,"T2":10,"MSE":0.108},{"T1":60,"T2":10,"MSE":0.108},{"T1":70,"T2":10,"MSE":0.108},{"T1":80,"T2":10,"MSE":0.107},{"T1":90,"T2":10,"MSE":0.107},{"T1":100,"T2":10,"MSE":0.106},
{"T1":20,"T2":30,"MSE":0.103},{"T1":30,"T2":30,"MSE":0.1},{"T1":40,"T2":30,"MSE":0.1},{"T1":50,"T2":30,"MSE":0.098},{"T1":60,"T2":30,"MSE":0.104},{"T1":70,"T2":30,"MSE":0.103},{"T1":80,"T2":30,"MSE":0.103},{"T1":90,"T2":30,"MSE":0.102},{"T1":100,"T2":30,"MSE":0.099},{"T1":110,"T2":30,"MSE":0.099},
{"T1":30,"T2":50,"MSE":0.093},{"T1":40,"T2":50,"MSE":0.094},{"T1":50,"T2":50,"MSE":0.094},{"T1":60,"T2":50,"MSE":0.092},{"T1":70,"T2":50,"MSE":0.081},{"T1":80,"T2":50,"MSE":0.095},{"T1":90,"T2":50,"MSE":0.095},{"T1":100,"T2":50,"MSE":0.097},{"T1":110,"T2":50,"MSE":0.088},{"T1":120,"T2":50,"MSE":0.087},
{"T1":40,"T2":70,"MSE":0.087},{"T1":50,"T2":70,"MSE":0.075},{"T1":60,"T2":70,"MSE":0.074},{"T1":70,"T2":70,"MSE":0.084},{"T1":80,"T2":70,"MSE":0.083},{"T1":90,"T2":70,"MSE":0.077},{"T1":100,"T2":70,"MSE":0.076},{"T1":110,"T2":70,"MSE":0.082},{"T1":120,"T2":70,"MSE":0.087},{"T1":130,"T2":70,"MSE":0.074},
{"T1":50,"T2":90,"MSE":0.072},{"T1":60,"T2":90,"MSE":0.063},{"T1":70,"T2":90,"MSE":0.062},{"T1":80,"T2":90,"MSE":0.078},{"T1":90,"T2":90,"MSE":0.072},{"T1":100,"T2":90,"MSE":0.072},{"T1":110,"T2":90,"MSE":0.068},{"T1":120,"T2":90,"MSE":0.079},{"T1":130,"T2":90,"MSE":0.056},{"T1":140,"T2":90,"MSE":0.07},
{"T1":60,"T2":110,"MSE":0.053},{"T1":70,"T2":110,"MSE":0.065},{"T1":80,"T2":110,"MSE":0.057},{"T1":90,"T2":110,"MSE":0.06},{"T1":100,"T2":110,"MSE":0.068},{"T1":110,"T2":110,"MSE":0.072},{"T1":120,"T2":110,"MSE":0.068},{"T1":130,"T2":110,"MSE":0.063},{"T1":140,"T2":110,"MSE":0.072},{"T1":150,"T2":110,"MSE":0.078},
{"T1":70,"T2":130,"MSE":0.047},{"T1":80,"T2":130,"MSE":0.045},{"T1":90,"T2":130,"MSE":0.045},{"T1":100,"T2":130,"MSE":0.046},{"T1":110,"T2":130,"MSE":0.052},{"T1":120,"T2":130,"MSE":0.046},{"T1":130,"T2":130,"MSE":0.076},{"T1":140,"T2":130,"MSE":0.056},{"T1":150,"T2":130,"MSE":0.055},{"T1":160,"T2":130,"MSE":0.05},
{"T1":80,"T2":150,"MSE":0.049},{"T1":90,"T2":150,"MSE":0.056},{"T1":100,"T2":150,"MSE":0.066},{"T1":110,"T2":150,"MSE":0.072},{"T1":120,"T2":150,"MSE":0.042},{"T1":130,"T2":150,"MSE":0.053},{"T1":140,"T2":150,"MSE":0.045},{"T1":150,"T2":150,"MSE":0.06},{"T1":160,"T2":150,"MSE":0.066},{"T1":170,"T2":150,"MSE":0.05},
{"T1":90,"T2":170,"MSE":0.049},{"T1":100,"T2":170,"MSE":0.049},{"T1":110,"T2":170,"MSE":0.041},{"T1":120,"T2":170,"MSE":0.05},{"T1":130,"T2":170,"MSE":0.053},{"T1":140,"T2":170,"MSE":0.053},{"T1":150,"T2":170,"MSE":0.05},{"T1":160,"T2":170,"MSE":0.05},{"T1":170,"T2":170,"MSE":0.06},{"T1":180,"T2":170,"MSE":0.04},
{"T1":100,"T2":190,"MSE":0.039},{"T1":110,"T2":190,"MSE":0.034},{"T1":120,"T2":190,"MSE":0.036},{"T1":130,"T2":190,"MSE":0.04},{"T1":140,"T2":190,"MSE":0.052},{"T1":150,"T2":190,"MSE":0.048},{"T1":160,"T2":190,"MSE":0.046},{"T1":170,"T2":190,"MSE":0.044},{"T1":180,"T2":190,"MSE":0.027},{"T1":190,"T2":190,"MSE":0.043}],
"p9":[{"T1":10,"T2":10,"MSE":0.106},{"T1":20,"T2":10,"MSE":0.107},{"T1":30,"T2":10,"MSE":0.107},{"T1":40,"T2":10,"MSE":0.107},{"T1":50,"T2":10,"MSE":0.108},{"T1":60,"T2":10,"MSE":0.108},{"T1":70,"T2":10,"MSE":0.108},{"T1":80,"T2":10,"MSE":0.108},{"T1":90,"T2":10,"MSE":0.107},{"T1":100,"T2":10,"MSE":0.107},
{"T1":20,"T2":30,"MSE":0.1},{"T1":30,"T2":30,"MSE":0.098},{"T1":40,"T2":30,"MSE":0.097},{"T1":50,"T2":30,"MSE":0.1},{"T1":60,"T2":30,"MSE":0.104},{"T1":70,"T2":30,"MSE":0.105},{"T1":80,"T2":30,"MSE":0.103},{"T1":90,"T2":30,"MSE":0.103},{"T1":100,"T2":30,"MSE":0.101},{"T1":110,"T2":30,"MSE":0.095},
{"T1":30,"T2":50,"MSE":0.088},{"T1":40,"T2":50,"MSE":0.082},{"T1":50,"T2":50,"MSE":0.088},{"T1":60,"T2":50,"MSE":0.092},{"T1":70,"T2":50,"MSE":0.09},{"T1":80,"T2":50,"MSE":0.085},{"T1":90,"T2":50,"MSE":0.092},{"T1":100,"T2":50,"MSE":0.088},{"T1":110,"T2":50,"MSE":0.083},{"T1":120,"T2":50,"MSE":0.083},
{"T1":40,"T2":70,"MSE":0.081},{"T1":50,"T2":70,"MSE":0.083},{"T1":60,"T2":70,"MSE":0.088},{"T1":70,"T2":70,"MSE":0.078},{"T1":80,"T2":70,"MSE":0.092},{"T1":90,"T2":70,"MSE":0.077},{"T1":100,"T2":70,"MSE":0.084},{"T1":110,"T2":70,"MSE":0.08},{"T1":120,"T2":70,"MSE":0.085},{"T1":130,"T2":70,"MSE":0.1},
{"T1":50,"T2":90,"MSE":0.072},{"T1":60,"T2":90,"MSE":0.07},{"T1":70,"T2":90,"MSE":0.074},{"T1":80,"T2":90,"MSE":0.07},{"T1":90,"T2":90,"MSE":0.08},{"T1":100,"T2":90,"MSE":0.082},{"T1":110,"T2":90,"MSE":0.08},{"T1":120,"T2":90,"MSE":0.068},{"T1":130,"T2":90,"MSE":0.078},{"T1":140,"T2":90,"MSE":0.063},
{"T1":60,"T2":110,"MSE":0.057},{"T1":70,"T2":110,"MSE":0.047},{"T1":80,"T2":110,"MSE":0.056},{"T1":90,"T2":110,"MSE":0.064},{"T1":100,"T2":110,"MSE":0.063},{"T1":110,"T2":110,"MSE":0.057},{"T1":120,"T2":110,"MSE":0.072},{"T1":130,"T2":110,"MSE":0.076},{"T1":140,"T2":110,"MSE":0.076},{"T1":150,"T2":110,"MSE":0.052},
{"T1":70,"T2":130,"MSE":0.057},{"T1":80,"T2":130,"MSE":0.044},{"T1":90,"T2":130,"MSE":0.044},{"T1":100,"T2":130,"MSE":0.05},{"T1":110,"T2":130,"MSE":0.056},{"T1":120,"T2":130,"MSE":0.056},{"T1":130,"T2":130,"MSE":0.058},{"T1":140,"T2":130,"MSE":0.05},{"T1":150,"T2":130,"MSE":0.065},{"T1":160,"T2":130,"MSE":0.034},
{"T1":80,"T2":150,"MSE":0.056},{"T1":90,"T2":150,"MSE":0.06},{"T1":100,"T2":150,"MSE":0.053},{"T1":110,"T2":150,"MSE":0.045},{"T1":120,"T2":150,"MSE":0.053},{"T1":130,"T2":150,"MSE":0.062},{"T1":140,"T2":150,"MSE":0.048},{"T1":150,"T2":150,"MSE":0.043},{"T1":160,"T2":150,"MSE":0.048},{"T1":170,"T2":150,"MSE":0.058},
{"T1":90,"T2":170,"MSE":0.074},{"T1":100,"T2":170,"MSE":0.044},{"T1":110,"T2":170,"MSE":0.042},{"T1":120,"T2":170,"MSE":0.043},{"T1":130,"T2":170,"MSE":0.05},{"T1":140,"T2":170,"MSE":0.053},{"T1":150,"T2":170,"MSE":0.04},{"T1":160,"T2":170,"MSE":0.036},{"T1":170,"T2":170,"MSE":0.036},{"T1":180,"T2":170,"MSE":0.038},
{"T1":100,"T2":190,"MSE":0.034},{"T1":110,"T2":190,"MSE":0.046},{"T1":120,"T2":190,"MSE":0.03},{"T1":130,"T2":190,"MSE":0.043},{"T1":140,"T2":190,"MSE":0.03},{"T1":150,"T2":190,"MSE":0.055},{"T1":160,"T2":190,"MSE":0.055},{"T1":170,"T2":190,"MSE":0.045},{"T1":180,"T2":190,"MSE":0.04},{"T1":190,"T2":190,"MSE":0.052}]
},
"vconcat":[{"spacing":31.5,"resolve":{"scale":{"color":"independent"},"legend":{"color":"independent"}},"vconcat":[
{"bounds":"flush","spacing":238,"resolve":{"scale":{"color":"independent"},"legend":{"color":"independent"}},"hconcat":[
{"width":467,"height":467,"layer":[
{"data":{"name":"p1"},"mark":{"type":"rect","width":24.6,"height":46.7},"encoding":{"x":{"field":"T1","type":"quantitative","scale":{"domain":[5,195],"nice":false},"axis":{"labels":false,"title":null,"values":[10,50,100,150,190]}},"y":{"field":"T2","type":"quantitative","scale":{"domain":[0,200],"nice":false},"axis":{"title":"𝑇₂/μs","values":[10,50,100,150,190]}},"color":{"field":"MSE","type":"quantitative","scale":{"domain":[0,0.0258,0.0718,0.118,0.164,0.21],"range":["#80cdb6","#66c2a4","#41ae76","#238b45","#006d2c","#00441b"],"interpolate":"rgb"},"legend":{"title":"MSE","values":[0,0.05,0.1,0.15,0.2],"format":".2f","labelExpr":"datum.value==0?'0':datum.label","encoding":{"labels":{"baseline":{"value":"middle"},"dx":{"value":10}},"title":{"dx":{"value":12}}}}}}},
{"data":{"values":[{}]},"mark":{"type":"text","text":["𝑁 = 15,","𝑎 = 2"]},"encoding":{"x":{"datum":12.5},"y":{"datum":195}}},
{"data":{"values":[{}]},"mark":{"type":"rect","fill":null,"stroke":"#000","strokeWidth":2.5},"encoding":{"x":{"datum":5},"x2":{"datum":195},"y":{"datum":0},"y2":{"datum":200}}}]},
{"width":467,"height":467,"layer":[
{"data":{"name":"p2"},"mark":{"type":"rect","width":24.6,"height":46.7},"encoding":{"x":{"field":"T1","type":"quantitative","scale":{"domain":[5,195],"nice":false},"axis":{"labels":false,"title":null,"values":[10,50,100,150,190]}},"y":{"field":"T2","type":"quantitative","scale":{"domain":[0,200],"nice":false},"axis":{"labels":false,"title":null,"values":[10,50,100,150,190]}},"color":{"field":"MSE","type":"quantitative","scale":{"domain":[0,0.0578,0.134,0.21,0.286,0.362,0.438],"range":["#c0e7df","#99d8c9","#66c2a4","#41ae76","#238b45","#006d2c","#00441b"],"interpolate":"rgb"},"legend":{"title":"MSE","values":[0,0.1,0.2,0.3,0.4],"format":".1f","labelExpr":"datum.value==0?'0':datum.label","encoding":{"labels":{"baseline":{"value":"middle"},"dx":{"value":10}},"title":{"dx":{"value":12}}}}}}},
{"data":{"values":[{}]},"mark":{"type":"text","text":["𝑁 = 15,","𝑎 = 4"]},"encoding":{"x":{"datum":12.5},"y":{"datum":195}}},
{"data":{"values":[{}]},"mark":{"type":"rect","fill":null,"stroke":"#000","strokeWidth":2.5},"encoding":{"x":{"datum":5},"x2":{"datum":195},"y":{"datum":0},"y2":{"datum":200}}}]},
{"width":467,"height":467,"layer":[
{"data":{"name":"p3"},"mark":{"type":"rect","width":24.6,"height":46.7},"encoding":{"x":{"field":"T1","type":"quantitative","scale":{"domain":[5,195],"nice":false},"axis":{"labels":false,"title":null,"values":[10,50,100,150,190]}},"y":{"field":"T2","type":"quantitative","scale":{"domain":[0,200],"nice":false},"axis":{"labels":false,"title":null,"values":[10,50,100,150,190]}},"color":{"field":"MSE","type":"quantitative","scale":{"domain":[0,0.0228,0.0704,0.118,0.1655,0.213],"range":["#80cdb6","#66c2a4","#41ae76","#238b45","#006d2c","#00441b"],"interpolate":"rgb"},"legend":{"title":"MSE","values":[0,0.05,0.1,0.15,0.2],"format":".2f","labelExpr":"datum.value==0?'0':datum.label","encoding":{"labels":{"baseline":{"value":"middle"},"dx":{"value":10}},"title":{"dx":{"value":12}}}}}}},
{"data":{"values":[{}]},"mark":{"type":"text","text":["𝑁 = 15,","𝑎 = 7"]},"encoding":{"x":{"datum":12.5},"y":{"datum":195}}},
{"data":{"values":[{}]},"mark":{"type":"rect","fill":null,"stroke":"#000","strokeWidth":2.5},"encoding":{"x":{"datum":5},"x2":{"datum":195},"y":{"datum":0},"y2":{"datum":200}}}]}
]},
{"bounds":"flush","spacing":238,"resolve":{"scale":{"color":"independent"},"legend":{"color":"independent"}},"hconcat":[
{"width":467,"height":467,"layer":[
{"data":{"name":"p4"},"mark":{"type":"rect","width":24.6,"height":46.7},"encoding":{"x":{"field":"T1","type":"quantitative","scale":{"domain":[5,195],"nice":false},"axis":{"labels":false,"title":null,"values":[10,50,100,150,190]}},"y":{"field":"T2","type":"quantitative","scale":{"domain":[0,200],"nice":false},"axis":{"title":"𝑇₂/μs","values":[10,50,100,150,190]}},"color":{"field":"MSE","type":"quantitative","scale":{"domain":[0,0.0117,0.0443,0.0768,0.1094],"range":["#4eb587","#41ae76","#238b45","#006d2c","#00441b"],"interpolate":"rgb"},"legend":{"title":"MSE","values":[0,0.05,0.1],"format":".2f","labelExpr":"datum.value==0?'0':datum.label","encoding":{"labels":{"baseline":{"value":"middle"},"dx":{"value":10}},"title":{"dx":{"value":12}}}}}}},
{"data":{"values":[{}]},"mark":{"type":"text","text":["𝑁 = 21,","𝑎 = 2"]},"encoding":{"x":{"datum":12.5},"y":{"datum":195}}},
{"data":{"values":[{}]},"mark":{"type":"rect","fill":null,"stroke":"#000","strokeWidth":2.5},"encoding":{"x":{"datum":5},"x2":{"datum":195},"y":{"datum":0},"y2":{"datum":200}}}]},
{"width":467,"height":467,"layer":[
{"data":{"name":"p5"},"mark":{"type":"rect","width":24.6,"height":46.7},"encoding":{"x":{"field":"T1","type":"quantitative","scale":{"domain":[5,195],"nice":false},"axis":{"labels":false,"title":null,"values":[10,50,100,150,190]}},"y":{"field":"T2","type":"quantitative","scale":{"domain":[0,200],"nice":false},"axis":{"labels":false,"title":null,"values":[10,50,100,150,190]}},"color":{"field":"MSE","type":"quantitative","scale":{"domain":[0,0.0787,0.164,0.25,0.335,0.421,0.5065],"range":["#c8eae4","#99d8c9","#66c2a4","#41ae76","#238b45","#006d2c","#00441b"],"interpolate":"rgb"},"legend":{"title":"MSE","values":[0,0.2,0.4],"format":".1f","labelExpr":"datum.value==0?'0':datum.label","encoding":{"labels":{"baseline":{"value":"middle"},"dx":{"value":10}},"title":{"dx":{"value":12}}}}}}},
{"data":{"values":[{}]},"mark":{"type":"text","text":["𝑁 = 21,","𝑎 = 8"]},"encoding":{"x":{"datum":12.5},"y":{"datum":195}}},
{"data":{"values":[{}]},"mark":{"type":"rect","fill":null,"stroke":"#000","strokeWidth":2.5},"encoding":{"x":{"datum":5},"x2":{"datum":195},"y":{"datum":0},"y2":{"datum":200}}}]},
{"width":467,"height":467,"layer":[
{"data":{"name":"p6"},"mark":{"type":"rect","width":24.6,"height":46.7},"encoding":{"x":{"field":"T1","type":"quantitative","scale":{"domain":[5,195],"nice":false},"axis":{"labels":false,"title":null,"values":[10,50,100,150,190]}},"y":{"field":"T2","type":"quantitative","scale":{"domain":[0,200],"nice":false},"axis":{"labels":false,"title":null,"values":[10,50,100,150,190]}},"color":{"field":"MSE","type":"quantitative","scale":{"domain":[0,0.0117,0.0443,0.0768,0.1094],"range":["#4eb587","#41ae76","#238b45","#006d2c","#00441b"],"interpolate":"rgb"},"legend":{"title":"MSE","values":[0,0.05,0.1],"format":".2f","labelExpr":"datum.value==0?'0':datum.label","encoding":{"labels":{"baseline":{"value":"middle"},"dx":{"value":10}},"title":{"dx":{"value":12}}}}}}},
{"data":{"values":[{}]},"mark":{"type":"text","text":["𝑁 = 21,","𝑎 = 11"]},"encoding":{"x":{"datum":12.5},"y":{"datum":195}}},
{"data":{"values":[{}]},"mark":{"type":"rect","fill":null,"stroke":"#000","strokeWidth":2.5},"encoding":{"x":{"datum":5},"x2":{"datum":195},"y":{"datum":0},"y2":{"datum":200}}}]}
]}
]},
{"bounds":"flush","spacing":238,"resolve":{"scale":{"color":"independent"},"legend":{"color":"independent"}},"hconcat":[
{"width":467,"height":467,"layer":[
{"data":{"name":"p7"},"mark":{"type":"rect","width":24.6,"height":46.7},"encoding":{"x":{"field":"T1","type":"quantitative","scale":{"domain":[5,195],"nice":false},"axis":{"title":"𝑇₁/μs","values":[10,50,100,150,190]}},"y":{"field":"T2","type":"quantitative","scale":{"domain":[0,200],"nice":false},"axis":{"title":"𝑇₂/μs","values":[10,50,100,150,190]}},"color":{"field":"MSE","type":"quantitative","scale":{"domain":[0,0.0041,0.0298,0.0555],"range":["#28914d","#238b45","#006d2c","#00441b"],"interpolate":"rgb"},"legend":{"title":"MSE","values":[0,0.02,0.04],"format":".2f","labelExpr":"datum.value==0?'0':datum.label","encoding":{"labels":{"baseline":{"value":"middle"},"dx":{"value":10}},"title":{"dx":{"value":12}}}}}}},
{"data":{"values":[{}]},"mark":{"type":"text","text":["𝑁 = 35,","𝑎 = 2"]},"encoding":{"x":{"datum":12.5},"y":{"datum":195}}},
{"data":{"values":[{}]},"mark":{"type":"rect","fill":null,"stroke":"#000","strokeWidth":2.5},"encoding":{"x":{"datum":5},"x2":{"datum":195},"y":{"datum":0},"y2":{"datum":200}}}]},
{"width":467,"height":467,"layer":[
{"data":{"name":"p8"},"mark":{"type":"rect","width":24.6,"height":46.7},"encoding":{"x":{"field":"T1","type":"quantitative","scale":{"domain":[5,195],"nice":false},"axis":{"title":"𝑇₁/μs","values":[10,50,100,150,190]}},"y":{"field":"T2","type":"quantitative","scale":{"domain":[0,200],"nice":false},"axis":{"labels":false,"title":null,"values":[10,50,100,150,190]}},"color":{"field":"MSE","type":"quantitative","scale":{"domain":[0,0.0119,0.0449,0.078,0.111],"range":["#4eb587","#41ae76","#238b45","#006d2c","#00441b"],"interpolate":"rgb"},"legend":{"title":"MSE","values":[0,0.05,0.1],"format":".2f","labelExpr":"datum.value==0?'0':datum.label","encoding":{"labels":{"baseline":{"value":"middle"},"dx":{"value":10}},"title":{"dx":{"value":12}}}}}}},
{"data":{"values":[{}]},"mark":{"type":"text","text":["𝑁 = 35,","𝑎 = 4"]},"encoding":{"x":{"datum":12.5},"y":{"datum":195}}},
{"data":{"values":[{}]},"mark":{"type":"rect","fill":null,"stroke":"#000","strokeWidth":2.5},"encoding":{"x":{"datum":5},"x2":{"datum":195},"y":{"datum":0},"y2":{"datum":200}}}]},
{"width":467,"height":467,"layer":[
{"data":{"name":"p9"},"mark":{"type":"rect","width":24.6,"height":46.7},"encoding":{"x":{"field":"T1","type":"quantitative","scale":{"domain":[5,195],"nice":false},"axis":{"title":"𝑇₁/μs","values":[10,50,100,150,190]}},"y":{"field":"T2","type":"quantitative","scale":{"domain":[0,200],"nice":false},"axis":{"labels":false,"title":null,"values":[10,50,100,150,190]}},"color":{"field":"MSE","type":"quantitative","scale":{"domain":[0,0.0119,0.0449,0.078,0.111],"range":["#4eb587","#41ae76","#238b45","#006d2c","#00441b"],"interpolate":"rgb"},"legend":{"title":"MSE","values":[0,0.05,0.1],"format":".2f","labelExpr":"datum.value==0?'0':datum.label","encoding":{"labels":{"baseline":{"value":"middle"},"dx":{"value":10}},"title":{"dx":{"value":12}}}}}}},
{"data":{"values":[{}]},"mark":{"type":"text","text":["𝑁 = 35,","𝑎 = 9"]},"encoding":{"x":{"datum":12.5},"y":{"datum":195}}},
{"data":{"values":[{}]},"mark":{"type":"rect","fill":null,"stroke":"#000","strokeWidth":2.5},"encoding":{"x":{"datum":5},"x2":{"datum":195},"y":{"datum":0},"y2":{"datum":200}}}]}
]}
]}
